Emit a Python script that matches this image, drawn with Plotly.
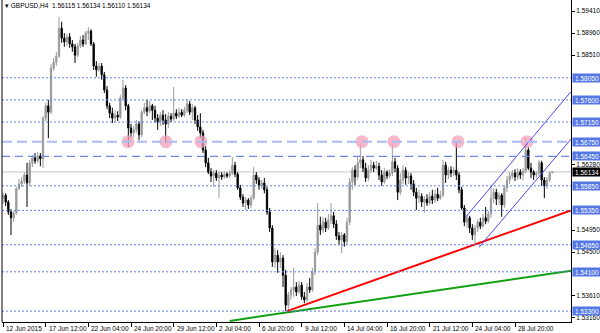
import plotly.graph_objects as go

# ---------------- data ----------------
opens = [
1.5560,1.5566,1.5552,1.5532,1.5520,1.5530,1.5579,1.5589,1.5595,1.5607,
1.5591,1.5632,1.5642,1.5636,1.5646,1.5640,1.5723,1.5748,1.5735,1.5825,
1.5837,1.5849,1.5906,1.5886,1.5878,1.5888,1.5874,1.5868,1.5851,1.5870,
1.5882,1.5874,1.5896,1.5900,1.5874,1.5829,1.5821,1.5829,1.5811,1.5780,
1.5748,1.5733,1.5723,1.5729,1.5725,1.5764,1.5784,1.5748,1.5703,1.5693,
1.5699,1.5711,1.5689,1.5735,1.5744,1.5737,1.5748,1.5739,1.5723,1.5715,
1.5729,1.5719,1.5711,1.5727,1.5721,1.5733,1.5727,1.5735,1.5729,1.5739,
1.5752,1.5735,1.5744,1.5719,1.5705,1.5693,1.5658,1.5632,1.5613,1.5605,
1.5611,1.5601,1.5607,1.5603,1.5609,1.5605,1.5611,1.5627,1.5609,1.5581,
1.5562,1.5550,1.5556,1.5546,1.5560,1.5607,1.5597,1.5585,1.5591,1.5577,
1.5532,1.5499,1.5430,1.5444,1.5430,1.5438,1.5403,1.5342,1.5363,1.5373,
1.5379,1.5369,1.5383,1.5359,1.5353,1.5379,1.5373,1.5410,1.5450,1.5505,
1.5495,1.5511,1.5499,1.5515,1.5524,1.5507,1.5483,1.5475,1.5485,1.5471,
1.5511,1.5593,1.5617,1.5603,1.5632,1.5638,1.5621,1.5601,1.5617,1.5627,
1.5621,1.5625,1.5607,1.5593,1.5613,1.5605,1.5611,1.5634,1.5621,1.5572,
1.5597,1.5617,1.5601,1.5605,1.5589,1.5572,1.5560,1.5564,1.5552,1.5558,
1.5550,1.5564,1.5556,1.5568,1.5560,1.5566,1.5627,1.5607,1.5617,1.5611,
1.5617,1.5607,1.5577,1.5540,1.5511,1.5520,1.5499,1.5485,1.5499,1.5511,
1.5503,1.5520,1.5513,1.5528,1.5560,1.5572,1.5558,1.5566,1.5546,1.5581,
1.5597,1.5605,1.5611,1.5603,1.5613,1.5607,1.5615,1.5658,1.5621,1.5613,
1.5607,1.5611,1.5632,1.5597,1.5585,1.5597,1.56115]

highs = [
1.5572,1.5570,1.5556,1.5538,1.5534,1.5583,1.5599,1.5603,1.5613,1.5632,
1.5638,1.5648,1.5652,1.5654,1.5652,1.5727,1.5754,1.5760,1.5833,1.5845,
1.5858,1.5929,1.5919,1.5896,1.5894,1.5896,1.5882,1.5874,1.5876,1.5890,
1.5892,1.5900,1.5908,1.5904,1.5878,1.5839,1.5835,1.5835,1.5817,1.5788,
1.5754,1.5744,1.5739,1.5737,1.5770,1.5801,1.5790,1.5752,1.5711,1.5707,
1.5719,1.5717,1.5739,1.5754,1.5760,1.5758,1.5752,1.5748,1.5731,1.5735,
1.5739,1.5731,1.5735,1.5733,1.5786,1.5741,1.5744,1.5741,1.5746,1.5760,
1.5758,1.5752,1.5748,1.5729,1.5733,1.5699,1.5666,1.5642,1.5621,1.5617,
1.5617,1.5615,1.5613,1.5615,1.5613,1.5617,1.5644,1.5634,1.5613,1.5587,
1.5568,1.5562,1.5560,1.5566,1.5623,1.5613,1.5603,1.5597,1.5601,1.5583,
1.5540,1.5505,1.5458,1.5454,1.5450,1.5444,1.5414,1.5369,1.5379,1.5418,
1.5389,1.5391,1.5389,1.5369,1.5387,1.5397,1.5418,1.5458,1.5550,1.5522,
1.5522,1.5520,1.5528,1.5550,1.5532,1.5515,1.5491,1.5491,1.5489,1.5520,
1.5601,1.5623,1.5627,1.5644,1.5672,1.5646,1.5632,1.5627,1.5638,1.5634,
1.5636,1.5632,1.5617,1.5621,1.5617,1.5619,1.5672,1.5642,1.5627,1.5611,
1.5627,1.5623,1.5613,1.5611,1.5597,1.5581,1.5577,1.5570,1.5564,1.5568,
1.5572,1.5577,1.5577,1.5581,1.5575,1.5638,1.5634,1.5623,1.5625,1.5623,
1.5674,1.5613,1.5583,1.5546,1.5526,1.5524,1.5507,1.5505,1.5517,1.5520,
1.5528,1.5542,1.5534,1.5587,1.5581,1.5579,1.5572,1.5570,1.5587,1.5605,
1.5613,1.5617,1.5619,1.5621,1.5619,1.5621,1.5684,1.5664,1.5632,1.5617,
1.5615,1.5638,1.5636,1.5603,1.5603,1.5614,1.56134]

lows = [
1.5548,1.5544,1.5526,1.5485,1.5511,1.5526,1.5577,1.5583,1.5589,1.5542,
1.5585,1.5623,1.5630,1.5632,1.5625,1.5621,1.5717,1.5682,1.5731,1.5819,
1.5829,1.5845,1.5876,1.5868,1.5870,1.5866,1.5858,1.5835,1.5847,1.5866,
1.5868,1.5872,1.5882,1.5870,1.5821,1.5807,1.5817,1.5801,1.5774,1.5741,
1.5723,1.5713,1.5715,1.5717,1.5721,1.5760,1.5739,1.5664,1.5682,1.5684,
1.5693,1.5678,1.5684,1.5731,1.5727,1.5733,1.5719,1.5713,1.5699,1.5707,
1.5709,1.5672,1.5703,1.5715,1.5717,1.5721,1.5723,1.5725,1.5725,1.5733,
1.5729,1.5719,1.5711,1.5697,1.5682,1.5652,1.5623,1.5609,1.5593,1.5583,
1.5595,1.5560,1.5597,1.5599,1.5601,1.5601,1.5607,1.5603,1.5577,1.5556,
1.5542,1.5536,1.5538,1.5540,1.5556,1.5589,1.5577,1.5579,1.5570,1.5526,
1.5491,1.5420,1.5418,1.5408,1.5418,1.5379,1.5330,1.5332,1.5353,1.5359,
1.5361,1.5365,1.5353,1.5346,1.5349,1.5367,1.5369,1.5403,1.5444,1.5485,
1.5489,1.5491,1.5495,1.5507,1.5499,1.5475,1.5465,1.5448,1.5461,1.5465,
1.5505,1.5577,1.5587,1.5597,1.5621,1.5613,1.5593,1.5595,1.5611,1.5613,
1.5617,1.5597,1.5585,1.5589,1.5599,1.5601,1.5605,1.5613,1.5556,1.5566,
1.5589,1.5587,1.5589,1.5577,1.5564,1.5536,1.5550,1.5542,1.5530,1.5544,
1.5546,1.5548,1.5550,1.5554,1.5556,1.5562,1.5591,1.5599,1.5603,1.5605,
1.5597,1.5570,1.5536,1.5503,1.5499,1.5489,1.5475,1.5465,1.5491,1.5497,
1.5499,1.5507,1.5509,1.5520,1.5550,1.5546,1.5546,1.5522,1.5540,1.5572,
1.5589,1.5599,1.5595,1.5597,1.5599,1.5597,1.5611,1.5617,1.5601,1.5597,
1.5601,1.5605,1.5585,1.5560,1.5579,1.5593,1.56110]

closes = [
1.5566,1.5552,1.5532,1.5520,1.5530,1.5579,1.5589,1.5595,1.5607,1.5591,
1.5632,1.5642,1.5636,1.5646,1.5640,1.5723,1.5748,1.5735,1.5825,1.5837,
1.5849,1.5906,1.5886,1.5878,1.5888,1.5874,1.5868,1.5851,1.5870,1.5882,
1.5874,1.5896,1.5900,1.5874,1.5829,1.5821,1.5829,1.5811,1.5780,1.5748,
1.5733,1.5723,1.5729,1.5725,1.5764,1.5784,1.5748,1.5703,1.5693,1.5699,
1.5711,1.5689,1.5735,1.5744,1.5737,1.5748,1.5739,1.5723,1.5715,1.5729,
1.5719,1.5711,1.5727,1.5721,1.5733,1.5727,1.5735,1.5729,1.5739,1.5752,
1.5735,1.5744,1.5719,1.5705,1.5693,1.5658,1.5632,1.5613,1.5605,1.5611,
1.5601,1.5607,1.5603,1.5609,1.5605,1.5611,1.5627,1.5609,1.5581,1.5562,
1.5550,1.5556,1.5546,1.5560,1.5607,1.5597,1.5585,1.5591,1.5577,1.5532,
1.5499,1.5430,1.5444,1.5430,1.5438,1.5403,1.5342,1.5363,1.5373,1.5379,
1.5369,1.5383,1.5359,1.5353,1.5379,1.5373,1.5410,1.5450,1.5505,1.5495,
1.5511,1.5499,1.5515,1.5524,1.5507,1.5483,1.5475,1.5485,1.5471,1.5511,
1.5593,1.5617,1.5603,1.5632,1.5638,1.5621,1.5601,1.5617,1.5627,1.5621,
1.5625,1.5607,1.5593,1.5613,1.5605,1.5611,1.5634,1.5621,1.5572,1.5597,
1.5617,1.5601,1.5605,1.5589,1.5572,1.5560,1.5564,1.5552,1.5558,1.5550,
1.5564,1.5556,1.5568,1.5560,1.5566,1.5627,1.5607,1.5617,1.5611,1.5617,
1.5607,1.5577,1.5540,1.5511,1.5520,1.5499,1.5485,1.5499,1.5511,1.5503,
1.5520,1.5513,1.5528,1.5560,1.5572,1.5558,1.5566,1.5546,1.5581,1.5597,
1.5605,1.5611,1.5603,1.5613,1.5607,1.5615,1.5658,1.5621,1.5613,1.5607,
1.5611,1.5632,1.5597,1.5585,1.5597,1.5611,1.56134]

bar_index = list(range(len(closes)))

# time-axis labels (every 16 H4 bars)
date_tick_index = [0, 16, 32, 48, 64, 80, 96, 112, 128, 144, 160, 176, 192]
date_tick_labels = ["12 Jun 2015", "17 Jun 12:00", "22 Jun 04:00", "24 Jun 20:00",
                    "29 Jun 12:00", "2 Jul 04:00", "6 Jul 20:00", "9 Jul 12:00",
                    "14 Jul 04:00", "16 Jul 20:00", "21 Jul 12:00", "24 Jul 04:00",
                    "28 Jul 20:00"]

# price scale labels
price_ticks = [1.59410, 1.58960, 1.58510, 1.56280, 1.54950, 1.54500, 1.53610, 1.53160]
dotted_levels = [1.58050, 1.57600, 1.57150, 1.55850, 1.55350, 1.54650, 1.54100, 1.53300]
resistance_level = 1.56750
support_level = 1.56450
boxed_levels = [1.58050, 1.57600, 1.57150, 1.56750, 1.56450, 1.55850, 1.55350,
                1.54650, 1.54100, 1.53300]
current_price = 1.56134

# touches of the 1.5675 resistance (bar index)
touch_index = [46.9, 61.1, 74.2, 134.6, 146.6, 170.6, 196.5]

# trend lines: [bar index], [price]
red_line_x, red_line_y = [106.5, 213.0], [1.53300, 1.55350]
green_line_x, green_line_y = [85.0, 213.0], [1.53100, 1.54120]
chan_up_x, chan_up_y = [173.6, 213.0], [1.55220, 1.57770]
chan_lo_x, chan_lo_y = [178.5, 213.0], [1.54600, 1.56800]

title_text = "▾ GBPUSD,H4  1.56115 1.56134 1.56110 1.56134"

# ---------------- figure ----------------
FONT = "Liberation Sans, Arial, sans-serif"
DOT_BLUE = "#5f7ff0"

fig = go.Figure()

fig.add_trace(go.Scatter(
    x=touch_index, y=[resistance_level] * len(touch_index), mode="markers",
    marker=dict(size=13, color="rgba(244,160,186,0.75)", line=dict(width=0)),
    hoverinfo="skip", showlegend=False))

fig.add_trace(go.Candlestick(
    x=bar_index, open=opens, high=highs, low=lows, close=closes,
    increasing=dict(line=dict(color="#9a9a9a", width=1), fillcolor="#9a9a9a"),
    decreasing=dict(line=dict(color="#000000", width=1), fillcolor="#000000"),
    whiskerwidth=0, hoverinfo="skip", showlegend=False))

for lx, ly, col, w in [(green_line_x, green_line_y, "#12a012", 2),
                       (red_line_x, red_line_y, "#ff0000", 2),
                       (chan_up_x, chan_up_y, "#4848f0", 1),
                       (chan_lo_x, chan_lo_y, "#4848f0", 1)]:
    fig.add_trace(go.Scatter(x=lx, y=ly, mode="lines",
                             line=dict(color=col, width=w),
                             hoverinfo="skip", showlegend=False))

shapes = []
shapes.append(dict(type="line", xref="paper", yref="y", x0=0, x1=1,
                   y0=current_price, y1=current_price, layer="below",
                   line=dict(color="#c8c8c8", width=1)))
for lv in dotted_levels:
    shapes.append(dict(type="line", xref="paper", yref="y", x0=0, x1=1,
                       y0=lv, y1=lv, line=dict(color=DOT_BLUE, width=1, dash="2px,2px")))
shapes.append(dict(type="line", xref="paper", yref="y", x0=0, x1=1,
                   y0=resistance_level, y1=resistance_level,
                   line=dict(color="#a9bcf5", width=2, dash="10px,5px")))
shapes.append(dict(type="line", xref="paper", yref="y", x0=0, x1=1,
                   y0=support_level, y1=support_level,
                   line=dict(color="#7088e8", width=1.2, dash="8px,5px")))
shapes.append(dict(type="line", xref="paper", yref="paper", x0=0, x1=0, y0=0, y1=1,
                   line=dict(color="#000000", width=1)))

annotations = []
for lv in boxed_levels:
    annotations.append(dict(xref="paper", yref="y", x=1, y=lv, xanchor="left",
                            yanchor="middle", xshift=1, showarrow=False,
                            text="%.5f" % lv, bgcolor="#5478e4", borderpad=0,
                            width=28, height=8,
                            font=dict(family=FONT, size=6.5, color="white")))
annotations.append(dict(xref="paper", yref="y", x=1, y=current_price, xanchor="left",
                        yanchor="middle", xshift=1, showarrow=False,
                        text="%.5f" % current_price, bgcolor="#000000", borderpad=0,
                        width=28, height=8,
                        font=dict(family=FONT, size=6.5, color="white")))
for xi, lab in zip(date_tick_index, date_tick_labels):
    annotations.append(dict(xref="x", yref="paper", x=xi, y=0, xanchor="left",
                            yanchor="top", xshift=1, yshift=-1, showarrow=False,
                            text=lab, font=dict(family=FONT, size=6.5, color="black")))
annotations.append(dict(xref="paper", yref="paper", x=0, y=1, xanchor="left",
                        yanchor="top", xshift=1, yshift=0, showarrow=False,
                        text=title_text, bgcolor="white",
                        font=dict(family=FONT, size=6.5, color="black")))

fig.update_layout(
    width=600, height=333, autosize=False,
    margin=dict(l=2, r=29, t=0, b=11, pad=0),
    paper_bgcolor="white", plot_bgcolor="white",
    showlegend=False, hovermode=False,
    shapes=shapes, annotations=annotations,
    xaxis=dict(range=[-0.375, 213.0], showgrid=False, zeroline=False,
               showline=True, linecolor="black", linewidth=1,
               ticks="outside", ticklen=4, tickcolor="black", tickwidth=1,
               tickvals=date_tick_index, showticklabels=False,
               rangeslider=dict(visible=False), fixedrange=True),
    yaxis=dict(range=[1.53078, 1.59634], side="right", showgrid=False,
               zeroline=False, showline=True, linecolor="black", linewidth=1,
               ticks="outside", ticklen=3, tickcolor="black", tickwidth=1,
               tickvals=price_ticks, ticktext=["%.5f" % v for v in price_ticks],
               tickfont=dict(family=FONT, size=6.5, color="black"),
               fixedrange=True),
)

fig.write_html("out.html")
